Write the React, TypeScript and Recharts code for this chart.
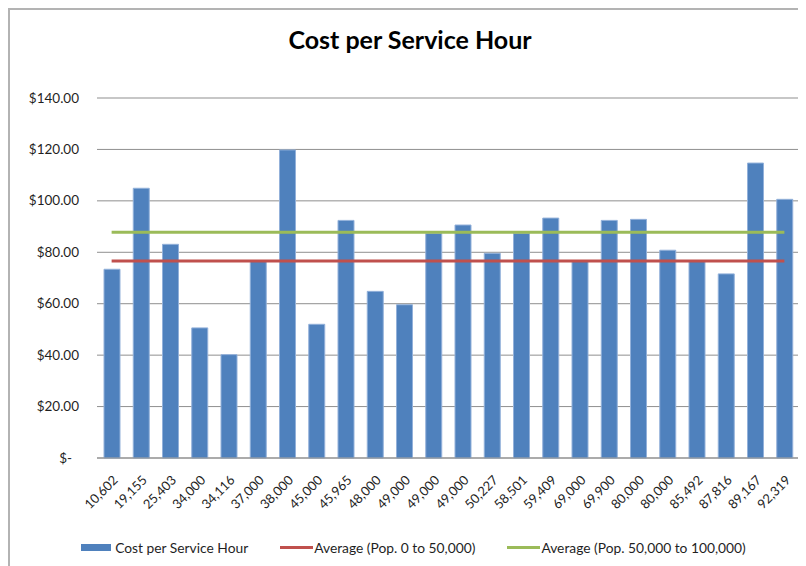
import React from 'react'
import {
  ComposedChart,
  Bar,
  Line,
  XAxis,
  YAxis,
  CartesianGrid,
  Legend,
} from 'recharts'

// population of each service area (x categories)
const populations = [
  '10,602', '19,155', '25,403', '34,000', '34,116', '37,000', '38,000', '45,000',
  '45,965', '48,000', '49,000', '49,000', '49,000', '50,227', '58,501', '59,409',
  '69,000', '69,900', '80,000', '80,000', '85,492', '87,816', '89,167', '92,319',
]

const costPerHour = [
  73.4, 104.9, 83.1, 50.6, 40.2, 76.8, 119.8, 52.0,
  92.4, 64.8, 59.6, 87.3, 90.6, 79.6, 87.4, 93.3,
  76.8, 92.4, 92.8, 80.8, 76.8, 71.6, 114.7, 100.6,
]

const avgSmallPop = 76.6
const avgLargePop = 87.8

const yTicks = [0, 20, 40, 60, 80, 100, 120, 140]

const FONT = 'Lato, "Open Sans", sans-serif'

const rows = populations.map((p, i) => ({
  pop: p,
  cost: costPerHour[i],
  avgSmall: avgSmallPop,
  avgLarge: avgLargePop,
}))

const fmtMoney = (v: number) => (v === 0 ? '$-' : `$${v.toFixed(2)}`)

const YTick = ({ x, y, payload }: any) => (
  <text
    x={x - (payload.value === 0 ? 7 : 0)}
    y={y}
    dy={4.5}
    textAnchor="end"
    fill="#1f1f1f"
    fontSize={13.5}
    fontFamily={FONT}
  >
    {fmtMoney(payload.value)}
  </text>
)

const XTick = ({ x, y, payload }: any) => (
  <text
    transform={`translate(${x + 7},${y + 15}) rotate(-45)`}
    textAnchor="end"
    fill="#1f1f1f"
    fontSize={13}
    fontFamily={FONT}
  >
    {payload.value}
  </text>
)

const legendItems = [
  { label: 'Cost per Service Hour', color: '#4F81BD', kind: 'bar' },
  { label: 'Average (Pop. 0 to 50,000)', color: '#C0504D', kind: 'line' },
  { label: 'Average (Pop. 50,000 to 100,000)', color: '#9BBB59', kind: 'line' },
]

const ChartLegend = () => (
  <div
    style={{
      display: 'flex',
      justifyContent: 'center',
      alignItems: 'center',
      gap: 32,
      height: 20,
      paddingLeft: 18,
      fontFamily: FONT,
      fontSize: 13.8,
      color: '#1f1f1f',
    }}
  >
    {legendItems.map((it) => (
      <span key={it.label} style={{ display: 'flex', alignItems: 'center' }}>
        {it.kind === 'bar' ? (
          <span style={{ display: 'inline-block', width: 30, height: 7, background: it.color, marginRight: 4 }} />
        ) : (
          <span style={{ display: 'inline-block', width: 33, height: 3, background: it.color, marginRight: 1 }} />
        )}
        {it.label}
      </span>
    ))}
  </div>
)

export default function App() {
  return (
    <div
      style={{
        position: 'relative',
        width: 796,
        height: 556,
        borderTop: '2px solid #b3b3b3',
        borderLeft: '2px solid #b3b3b3',
        background: '#fff',
      }}
    >
      <div
        style={{
          position: 'absolute',
          left: 0,
          width: 800,
          top: 14,
          textAlign: 'center',
          fontFamily: FONT,
          fontWeight: 700,
          fontSize: 25,
          color: '#000',
        }}
      >
        Cost per Service Hour
      </div>
      <ComposedChart
        width={796}
        height={556}
        data={rows}
        margin={{ top: 88, right: 7, bottom: 9, left: 0 }}
      >
        <CartesianGrid vertical={false} stroke="#8f8f8f" />
        <XAxis
          dataKey="pop"
          interval={0}
          height={79}
          tick={<XTick />}
          tickLine={false}
          axisLine={{ stroke: '#8f8f8f' }}
        />
        <YAxis
          domain={[0, 140]}
          ticks={yTicks}
          width={87}
          tick={<YTick />}
          tickLine={false}
          axisLine={false}
          tickSize={6}
          tickMargin={12}
        />
        <Legend verticalAlign="bottom" content={<ChartLegend />} />
        <Bar
          dataKey="cost"
          name="Cost per Service Hour"
          fill="#4F81BD"
          stroke="#93b1da"
          strokeWidth={1}
          barSize={16}
          isAnimationActive={false}
        />
        <Line
          dataKey="avgSmall"
          name="Average (Pop. 0 to 50,000)"
          stroke="#C0504D"
          strokeWidth={3}
          dot={false}
          activeDot={false}
          isAnimationActive={false}
        />
        <Line
          dataKey="avgLarge"
          name="Average (Pop. 50,000 to 100,000)"
          stroke="#9BBB59"
          strokeWidth={3}
          dot={false}
          activeDot={false}
          isAnimationActive={false}
        />
      </ComposedChart>
    </div>
  )
}
